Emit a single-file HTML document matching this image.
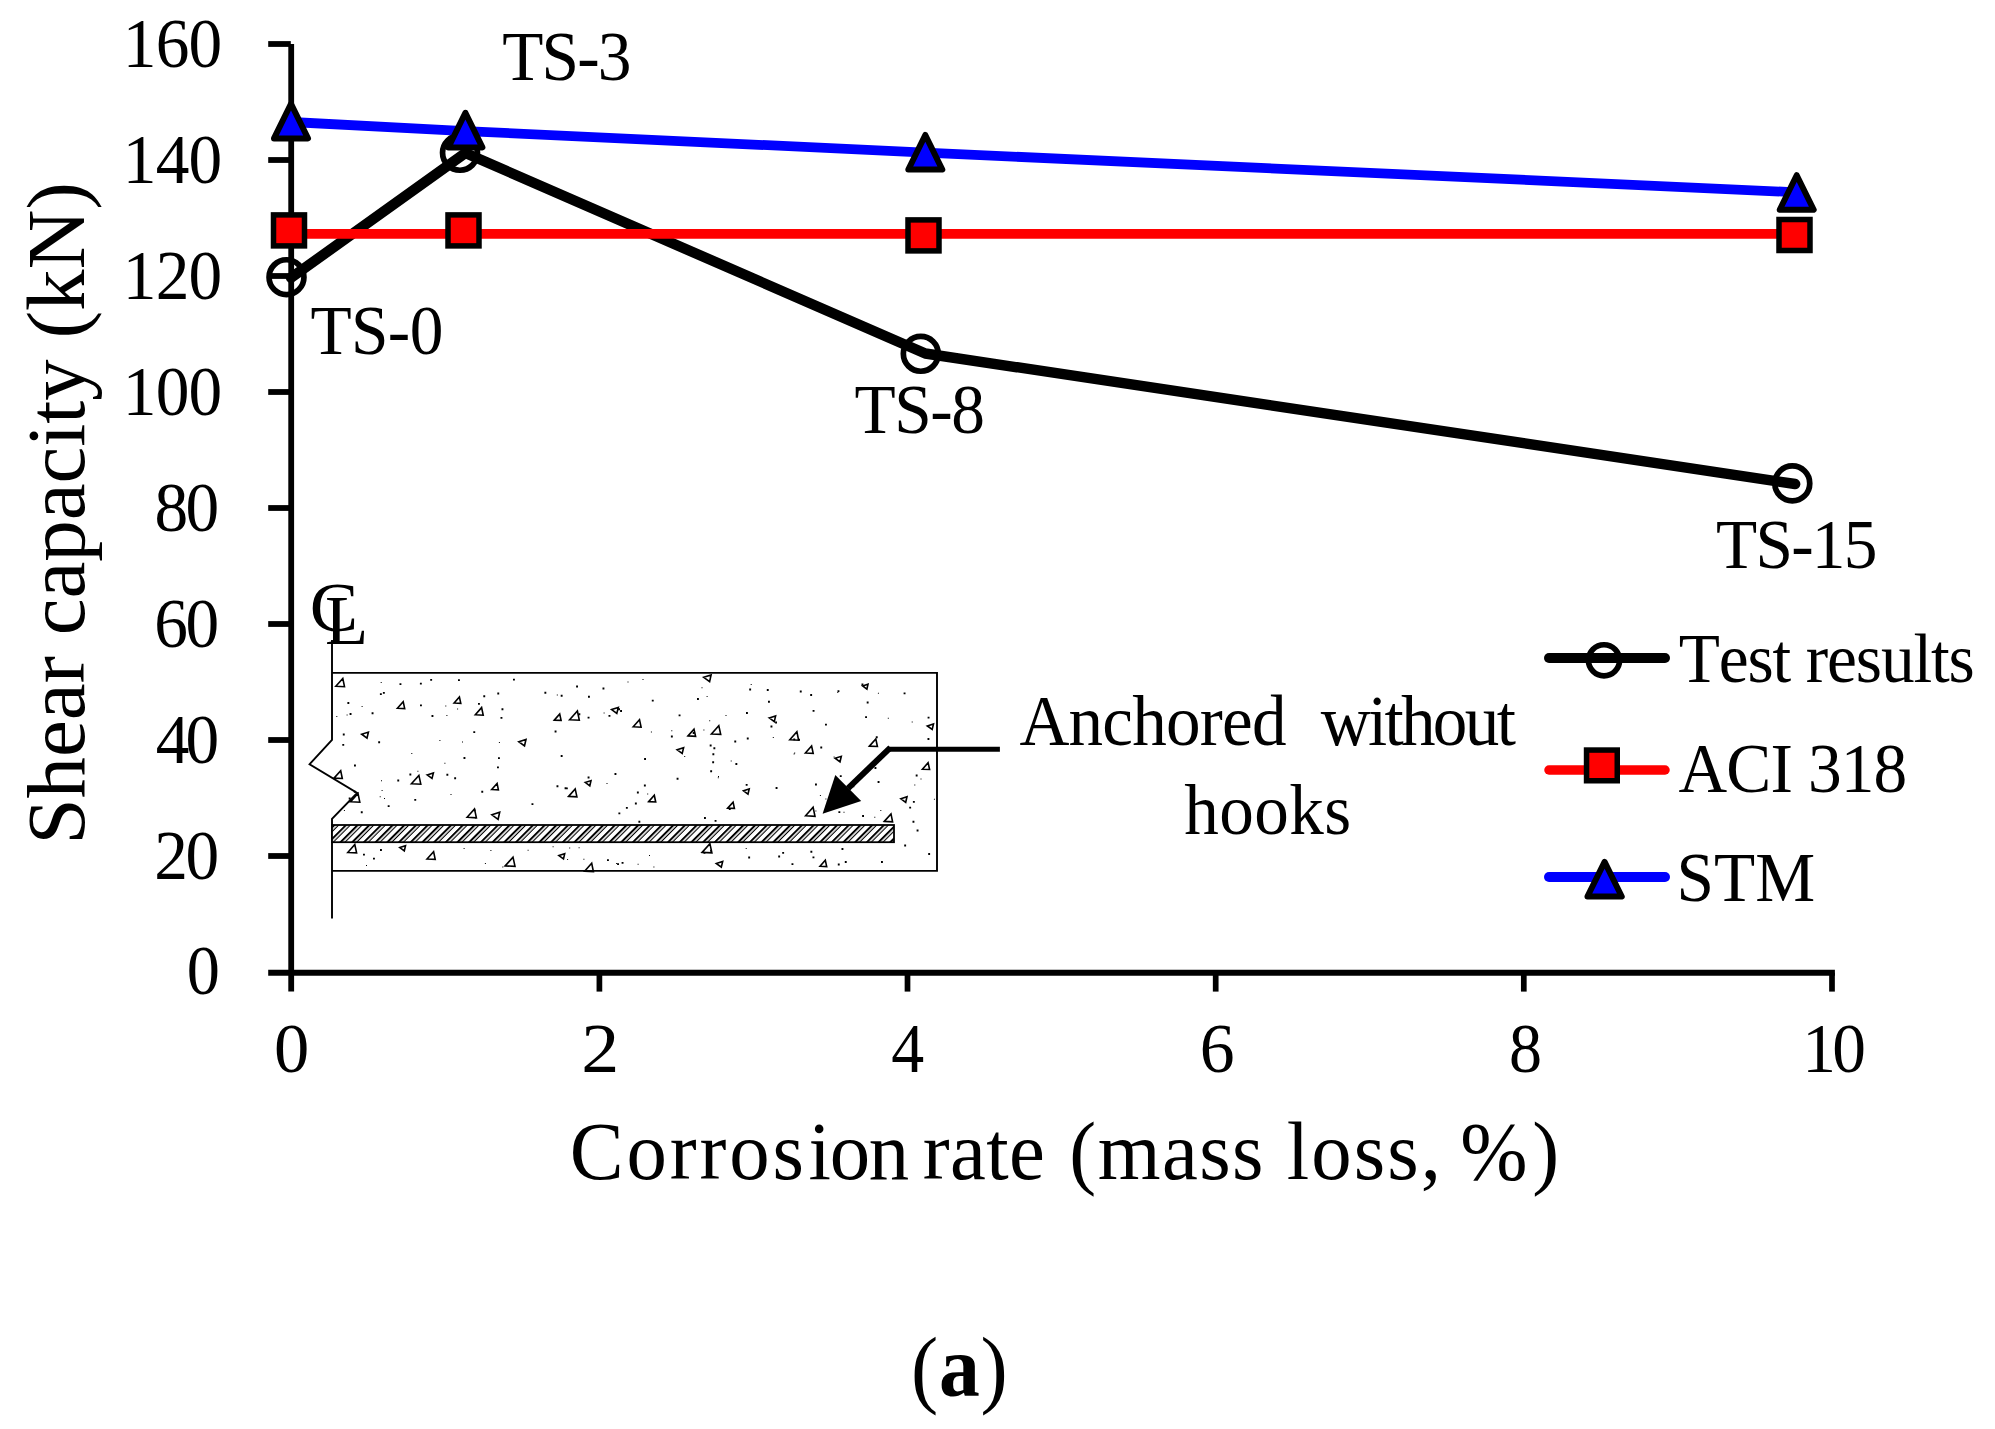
<!DOCTYPE html>
<html><head><meta charset="utf-8"><title>Shear capacity vs corrosion rate</title>
<style>
html,body{margin:0;padding:0;background:#fff;}
svg{display:block;}
text{font-family:"Liberation Serif","Times New Roman",serif;fill:#000;font-kerning:none;white-space:pre;}
</style></head><body>
<svg width="1995" height="1429" viewBox="0 0 1995 1429">
<rect width="1995" height="1429" fill="#fff"/>
<g stroke="#000" fill="none">
<line x1="291.2" y1="44" x2="291.2" y2="991.6" stroke-width="5.8"/>
<line x1="268.2" y1="972.8" x2="1834.9" y2="972.8" stroke-width="6"/>
<line x1="268.2" y1="44.0" x2="290.8" y2="44.0" stroke-width="5.8"/>
<line x1="268.2" y1="160.0" x2="291.2" y2="160.0" stroke-width="5.8"/>
<line x1="268.2" y1="276.0" x2="291.2" y2="276.0" stroke-width="5.8"/>
<line x1="268.2" y1="392.0" x2="291.2" y2="392.0" stroke-width="5.8"/>
<line x1="268.2" y1="508.0" x2="291.2" y2="508.0" stroke-width="5.8"/>
<line x1="268.2" y1="624.0" x2="291.2" y2="624.0" stroke-width="5.8"/>
<line x1="268.2" y1="740.0" x2="291.2" y2="740.0" stroke-width="5.8"/>
<line x1="268.2" y1="856.0" x2="291.2" y2="856.0" stroke-width="5.8"/>
<line x1="599.4" y1="972.8" x2="599.4" y2="991.6" stroke-width="5.7"/>
<line x1="907.5" y1="972.8" x2="907.5" y2="991.6" stroke-width="5.7"/>
<line x1="1215.7" y1="972.8" x2="1215.7" y2="991.6" stroke-width="5.7"/>
<line x1="1523.8" y1="972.8" x2="1523.8" y2="991.6" stroke-width="5.7"/>
<line x1="1832.0" y1="972.8" x2="1832.0" y2="991.6" stroke-width="5.7"/>
</g>
<text transform="translate(122.77,66.50) scale(0.9700,1)" font-size="69.5" letter-spacing="-0.840">160</text>
<text transform="translate(122.77,182.50) scale(0.9700,1)" font-size="69.5" letter-spacing="-0.840">140</text>
<text transform="translate(122.77,298.50) scale(0.9700,1)" font-size="69.5" letter-spacing="-0.840">120</text>
<text transform="translate(122.77,414.50) scale(0.9700,1)" font-size="69.5" letter-spacing="-0.840">100</text>
<text transform="translate(154.53,530.50) scale(0.9700,1)" font-size="69.5" letter-spacing="-2.866">80</text>
<text transform="translate(154.20,646.50) scale(0.9700,1)" font-size="69.5" letter-spacing="-2.526">60</text>
<text transform="translate(155.78,762.50) scale(0.9700,1)" font-size="69.5" letter-spacing="-4.155">40</text>
<text transform="translate(154.14,878.50) scale(0.9700,1)" font-size="69.5" letter-spacing="-2.459">20</text>
<text transform="translate(186.67,994.40) scale(0.9540,1)" font-size="69.5">0</text>
<text transform="translate(274.11,1071.60) scale(1.0151,1)" font-size="69.5">0</text>
<text transform="translate(581.26,1071.60) scale(1.0947,1)" font-size="69.5">2</text>
<text transform="translate(891.31,1071.60) scale(0.9472,1)" font-size="69.5">4</text>
<text transform="translate(1199.80,1071.60) scale(1.0036,1)" font-size="69.5">6</text>
<text transform="translate(1509.08,1071.60) scale(0.9506,1)" font-size="69.5">8</text>
<text transform="translate(1802.17,1071.60) scale(0.9700,1)" font-size="69.5" letter-spacing="-3.631">10</text>
<polyline points="291.0,277.8 465.4,153.0 925.3,353.5 1795.2,484.0" fill="none" stroke="#000" stroke-width="10.4" stroke-linecap="round" stroke-linejoin="round"/>
<circle cx="286.5" cy="277.2" r="17.45" fill="none" stroke="#000" stroke-width="5.7"/>
<circle cx="460.0" cy="152.8" r="17.45" fill="none" stroke="#000" stroke-width="5.7"/>
<circle cx="920.8" cy="353.8" r="17.45" fill="none" stroke="#000" stroke-width="5.7"/>
<circle cx="1792.3" cy="483.4" r="17.45" fill="none" stroke="#000" stroke-width="5.7"/>
<polyline points="291.0,233.9 1796.7,233.9" fill="none" stroke="#ff0000" stroke-width="9.8" stroke-linecap="round" stroke-linejoin="round"/>
<rect x="273.50" y="214.90" width="31.00" height="31.00" fill="#ff0000" stroke="#000" stroke-width="5.5" stroke-linejoin="miter"/>
<rect x="448.00" y="214.90" width="31.00" height="31.00" fill="#ff0000" stroke="#000" stroke-width="5.5" stroke-linejoin="miter"/>
<rect x="908.00" y="219.90" width="31.00" height="31.00" fill="#ff0000" stroke="#000" stroke-width="5.5" stroke-linejoin="miter"/>
<rect x="1779.00" y="219.50" width="31.00" height="31.00" fill="#ff0000" stroke="#000" stroke-width="5.5" stroke-linejoin="miter"/>
<polyline points="291.0,122.0 465.4,131.1 925.3,152.6 1796.7,192.3" fill="none" stroke="#0000ff" stroke-width="9.8" stroke-linecap="round" stroke-linejoin="round"/>
<path d="M291.00,103.80 L308.00,138.40 L274.00,138.40 Z" fill="#0000ff" stroke="#000" stroke-width="6" stroke-linejoin="round"/>
<path d="M465.40,112.80 L482.40,147.40 L448.40,147.40 Z" fill="#0000ff" stroke="#000" stroke-width="6" stroke-linejoin="round"/>
<path d="M925.30,135.00 L942.30,169.60 L908.30,169.60 Z" fill="#0000ff" stroke="#000" stroke-width="6" stroke-linejoin="round"/>
<path d="M1796.70,175.20 L1813.70,209.80 L1779.70,209.80 Z" fill="#0000ff" stroke="#000" stroke-width="6" stroke-linejoin="round"/>
<text transform="translate(502.28,80.20) scale(0.9700,1)" font-size="69.5" letter-spacing="-1.951">TS-3</text>
<text transform="translate(310.48,354.20) scale(0.9700,1)" font-size="69.5" letter-spacing="-0.668">TS-0</text>
<text transform="translate(854.48,433.20) scale(0.9700,1)" font-size="69.5" letter-spacing="-1.493">TS-8</text>
<text transform="translate(1716.08,568.30) scale(0.9700,1)" font-size="69.5" letter-spacing="-1.852">TS-15</text>
<g id="beam">
<defs><pattern id="hatch" width="8.27" height="8.27" patternUnits="userSpaceOnUse" patternTransform="translate(333,825) rotate(-45)"><rect x="0" y="0" width="8.27" height="2.0" fill="#000"/><rect x="0" y="3.5" width="8.27" height="1.1" fill="#000"/></pattern></defs>
<path d="M606.5,782.9h1.0v1.0h-1.0zM614.5,773.0h1.9v1.9h-1.9zM446.4,773.8h1.9v1.9h-1.9zM810.2,694.0h1.9v1.9h-1.9zM750.7,684.0h1.0v1.0h-1.0zM912.9,800.9h1.9v1.9h-1.9zM430.2,678.9h1.9v1.9h-1.9zM371.6,712.3h1.9v1.9h-1.9zM354.0,764.6h1.9v1.9h-1.9zM839.8,775.2h1.9v1.9h-1.9zM634.9,802.5h1.9v1.9h-1.9zM502.3,866.6h1.0v1.0h-1.0zM838.4,811.2h1.9v1.9h-1.9zM473.3,731.2h1.9v1.9h-1.9zM794.2,752.5h1.0v1.0h-1.0zM567.1,859.0h1.0v1.0h-1.0zM336.3,716.1h1.0v1.0h-1.0zM617.1,863.2h1.9v1.9h-1.9zM379.7,796.2h1.0v1.0h-1.0zM497.3,692.6h1.9v1.9h-1.9zM912.5,820.8h1.9v1.9h-1.9zM483.3,695.3h1.9v1.9h-1.9zM812.6,709.9h1.9v1.9h-1.9zM603.6,712.4h1.0v1.0h-1.0zM414.3,798.9h1.9v1.9h-1.9zM587.6,716.7h1.9v1.9h-1.9zM916.6,829.5h1.9v1.9h-1.9zM865.1,716.2h1.9v1.9h-1.9zM846.9,798.6h1.9v1.9h-1.9zM927.6,716.7h1.9v1.9h-1.9zM798.1,738.8h1.9v1.9h-1.9zM379.9,693.2h1.9v1.9h-1.9zM481.3,790.8h1.9v1.9h-1.9zM607.0,859.2h1.9v1.9h-1.9zM445.3,705.4h1.0v1.0h-1.0zM825.0,723.7h1.9v1.9h-1.9zM778.2,855.6h1.9v1.9h-1.9zM904.2,844.5h1.9v1.9h-1.9zM588.0,695.8h1.9v1.9h-1.9zM911.7,721.5h1.0v1.0h-1.0zM692.7,732.0h1.9v1.9h-1.9zM766.8,689.1h1.9v1.9h-1.9zM703.4,729.5h1.0v1.0h-1.0zM458.0,679.2h1.9v1.9h-1.9zM602.5,687.5h1.9v1.9h-1.9zM556.5,785.3h1.9v1.9h-1.9zM552.6,846.2h1.0v1.0h-1.0zM728.8,808.0h1.9v1.9h-1.9zM419.9,682.7h1.9v1.9h-1.9zM880.3,809.9h1.0v1.0h-1.0zM348.7,797.5h1.9v1.9h-1.9zM772.8,736.9h1.0v1.0h-1.0zM381.0,780.3h1.0v1.0h-1.0zM874.3,816.8h1.0v1.0h-1.0zM810.4,850.8h1.9v1.9h-1.9zM745.7,848.1h1.0v1.0h-1.0zM852.4,785.4h1.9v1.9h-1.9zM564.6,787.3h1.9v1.9h-1.9zM384.0,798.1h1.0v1.0h-1.0zM862.1,815.1h1.9v1.9h-1.9zM775.6,787.0h1.9v1.9h-1.9zM837.3,692.0h1.0v1.0h-1.0zM353.8,790.8h1.9v1.9h-1.9zM473.7,809.4h1.9v1.9h-1.9zM703.5,851.8h1.9v1.9h-1.9zM342.8,733.5h1.9v1.9h-1.9zM457.1,708.4h1.0v1.0h-1.0zM730.7,760.4h1.0v1.0h-1.0zM531.5,803.2h1.9v1.9h-1.9zM565.9,787.4h1.9v1.9h-1.9zM417.4,770.8h1.0v1.0h-1.0zM843.5,811.8h1.0v1.0h-1.0zM501.5,708.3h1.9v1.9h-1.9zM500.5,716.9h1.9v1.9h-1.9zM710.2,770.3h1.9v1.9h-1.9zM837.8,863.6h1.9v1.9h-1.9zM380.7,682.0h1.0v1.0h-1.0zM360.8,811.3h1.9v1.9h-1.9zM347.4,702.0h1.9v1.9h-1.9zM478.0,702.9h1.9v1.9h-1.9zM712.2,761.3h1.9v1.9h-1.9zM909.2,806.7h1.9v1.9h-1.9zM620.1,710.1h1.9v1.9h-1.9zM618.4,812.4h1.9v1.9h-1.9zM498.9,742.0h1.0v1.0h-1.0zM647.2,793.4h1.0v1.0h-1.0zM877.9,692.7h1.0v1.0h-1.0zM768.0,700.8h1.9v1.9h-1.9zM710.1,849.8h1.9v1.9h-1.9zM812.5,856.4h1.9v1.9h-1.9zM725.5,715.1h1.0v1.0h-1.0zM825.4,798.5h1.0v1.0h-1.0zM463.6,847.9h1.0v1.0h-1.0zM920.5,778.6h1.0v1.0h-1.0zM527.6,849.8h1.0v1.0h-1.0zM544.4,691.8h1.9v1.9h-1.9zM627.5,681.4h1.0v1.0h-1.0zM439.4,740.0h1.0v1.0h-1.0zM420.0,704.4h1.9v1.9h-1.9zM748.2,856.6h1.9v1.9h-1.9zM903.6,692.4h1.9v1.9h-1.9zM650.9,731.4h1.0v1.0h-1.0zM718.0,775.9h1.0v1.0h-1.0zM670.9,735.5h1.9v1.9h-1.9zM841.5,848.0h1.9v1.9h-1.9zM844.8,861.0h1.9v1.9h-1.9zM678.6,714.4h1.9v1.9h-1.9zM636.9,791.6h1.9v1.9h-1.9zM915.7,774.6h1.9v1.9h-1.9zM815.0,783.5h1.9v1.9h-1.9zM749.2,688.6h1.9v1.9h-1.9zM583.4,858.8h1.0v1.0h-1.0zM497.0,766.4h1.9v1.9h-1.9zM874.5,767.0h1.9v1.9h-1.9zM450.5,794.0h1.0v1.0h-1.0zM349.6,713.1h1.9v1.9h-1.9zM746.8,737.5h1.9v1.9h-1.9zM706.6,696.0h1.0v1.0h-1.0zM409.4,773.5h1.9v1.9h-1.9zM454.2,777.3h1.9v1.9h-1.9zM560.7,755.0h1.9v1.9h-1.9zM431.5,715.0h1.9v1.9h-1.9zM717.8,777.2h1.0v1.0h-1.0zM475.1,817.5h1.0v1.0h-1.0zM875.8,736.3h1.9v1.9h-1.9zM887.8,717.7h1.0v1.0h-1.0zM866.7,701.6h1.9v1.9h-1.9zM770.5,725.6h1.9v1.9h-1.9zM833.6,756.5h1.0v1.0h-1.0zM411.3,752.9h1.0v1.0h-1.0zM346.6,714.4h1.0v1.0h-1.0zM881.0,861.0h1.9v1.9h-1.9zM638.4,820.8h1.9v1.9h-1.9zM746.0,712.1h1.9v1.9h-1.9zM399.5,683.2h1.9v1.9h-1.9zM643.9,784.6h1.9v1.9h-1.9zM446.4,714.9h1.0v1.0h-1.0zM928.2,853.0h1.9v1.9h-1.9zM373.0,857.7h1.9v1.9h-1.9zM793.3,738.4h1.9v1.9h-1.9zM644.1,758.1h1.9v1.9h-1.9zM343.9,809.9h1.0v1.0h-1.0zM444.4,762.7h1.0v1.0h-1.0zM578.4,713.3h1.9v1.9h-1.9zM642.5,678.9h1.0v1.0h-1.0zM815.4,810.6h1.0v1.0h-1.0zM712.4,753.3h1.9v1.9h-1.9zM637.6,863.7h1.0v1.0h-1.0zM490.4,850.1h1.0v1.0h-1.0zM578.6,847.2h1.0v1.0h-1.0zM793.6,753.5h1.0v1.0h-1.0zM378.2,741.3h1.9v1.9h-1.9zM342.3,743.9h1.9v1.9h-1.9zM709.2,720.3h1.0v1.0h-1.0zM734.3,740.5h1.9v1.9h-1.9zM676.6,777.8h1.9v1.9h-1.9zM933.9,798.7h1.0v1.0h-1.0zM791.5,863.2h1.9v1.9h-1.9zM704.0,817.1h1.9v1.9h-1.9zM576.1,685.6h1.9v1.9h-1.9zM560.7,694.8h1.9v1.9h-1.9zM877.6,781.1h1.9v1.9h-1.9zM914.3,784.5h1.0v1.0h-1.0zM381.6,790.1h1.0v1.0h-1.0zM363.0,853.7h1.9v1.9h-1.9zM618.1,708.3h1.9v1.9h-1.9zM701.5,687.2h1.0v1.0h-1.0zM587.6,776.6h1.9v1.9h-1.9zM554.6,730.6h1.9v1.9h-1.9zM671.3,730.2h1.0v1.0h-1.0zM513.0,678.7h1.9v1.9h-1.9zM361.6,705.9h1.0v1.0h-1.0zM569.2,847.4h1.0v1.0h-1.0zM366.0,864.9h1.0v1.0h-1.0zM380.0,849.0h1.9v1.9h-1.9zM621.6,861.9h1.9v1.9h-1.9zM649.0,855.0h1.0v1.0h-1.0zM616.1,863.0h1.0v1.0h-1.0zM697.0,698.0h1.9v1.9h-1.9zM608.5,714.9h1.9v1.9h-1.9zM651.8,699.7h1.9v1.9h-1.9zM735.4,763.0h1.9v1.9h-1.9zM684.2,756.1h1.0v1.0h-1.0zM653.4,866.5h1.0v1.0h-1.0zM775.1,721.5h1.9v1.9h-1.9zM709.7,744.6h1.9v1.9h-1.9zM745.7,783.9h1.9v1.9h-1.9zM714.6,819.9h1.9v1.9h-1.9zM484.9,863.1h1.0v1.0h-1.0zM861.5,683.5h1.9v1.9h-1.9zM498.0,757.2h1.9v1.9h-1.9zM397.3,779.5h1.9v1.9h-1.9zM387.7,805.2h1.9v1.9h-1.9zM713.4,747.3h1.9v1.9h-1.9zM462.0,741.6h1.0v1.0h-1.0zM837.5,690.2h1.9v1.9h-1.9zM819.9,795.1h1.0v1.0h-1.0zM463.5,757.1h1.9v1.9h-1.9zM820.3,746.5h1.9v1.9h-1.9zM927.5,738.1h1.9v1.9h-1.9zM782.2,851.9h1.9v1.9h-1.9zM556.8,694.5h1.0v1.0h-1.0zM382.9,691.9h1.9v1.9h-1.9zM625.9,806.9h1.9v1.9h-1.9zM799.8,690.5h1.9v1.9h-1.9z" fill="#000"/>
<path d="M335.8,686.3 L344.5,686.7 L342.8,678.4 Z M397.4,708.2 L404.7,708.6 L403.2,701.7 Z M454.1,703.0 L460.8,703.3 L459.4,697.0 Z M475.3,714.8 L483.2,715.2 L481.6,707.6 Z M554.3,720.1 L561.1,720.4 L559.7,714.0 Z M569.6,719.7 L579.3,720.2 L577.4,711.0 Z M611.6,709.6 L618.3,707.5 L616.8,713.5 Z M633.2,726.8 L641.1,727.2 L639.5,719.7 Z M688.0,735.9 L695.6,736.3 L694.0,729.1 Z M361.7,734.2 L368.4,732.1 L367.0,738.1 Z M518.8,741.7 L526.0,739.4 L524.5,745.8 Z M677.1,749.8 L683.6,747.7 L682.2,753.5 Z M334.0,778.1 L342.3,778.5 L340.7,770.6 Z M411.4,783.8 L420.8,784.2 L418.9,775.4 Z M427.1,774.9 L433.4,772.9 L432.0,778.5 Z M491.7,789.5 L498.4,789.8 L497.1,783.4 Z M585.2,782.4 L591.0,780.6 L589.8,785.8 Z M568.6,796.4 L576.9,796.8 L575.2,788.9 Z M648.7,801.6 L655.7,802.0 L654.3,795.3 Z M350.6,801.8 L359.8,802.2 L358.0,793.4 Z M467.1,817.3 L476.4,817.8 L474.5,808.9 Z M491.9,814.8 L499.7,812.3 L498.1,819.3 Z M347.8,852.5 L356.6,852.9 L354.8,844.5 Z M399.8,847.6 L405.5,845.8 L404.3,850.9 Z M427.0,859.0 L435.2,859.4 L433.6,851.6 Z M505.2,865.9 L515.0,866.4 L513.0,857.1 Z M558.9,855.6 L564.7,853.8 L563.5,859.0 Z M584.6,871.3 L593.4,871.7 L591.7,863.3 Z M703.7,677.3 L711.1,675.0 L709.6,681.6 Z M862.5,685.9 L868.0,684.2 L866.9,689.1 Z M769.2,717.9 L775.6,715.9 L774.3,721.6 Z M711.4,734.0 L720.7,734.4 L718.8,725.6 Z M789.8,739.8 L798.6,740.2 L796.9,731.8 Z M805.4,753.0 L813.2,753.4 L811.6,746.0 Z M869.4,746.1 L877.4,746.5 L875.8,738.9 Z M927.3,726.0 L933.5,724.0 L932.2,729.5 Z M835.1,758.2 L841.3,756.3 L840.0,761.9 Z M922.4,769.2 L929.6,769.5 L928.1,762.7 Z M743.5,790.8 L749.2,789.0 L748.0,794.1 Z M727.7,808.1 L734.4,808.4 L733.1,802.1 Z M805.6,815.8 L815.0,816.3 L813.1,807.3 Z M900.9,798.8 L907.0,796.8 L905.7,802.3 Z M884.3,821.4 L892.6,821.8 L891.0,813.9 Z M702.1,852.4 L711.9,852.9 L709.9,843.6 Z M716.3,863.5 L722.7,861.5 L721.3,867.2 Z M820.0,866.2 L826.7,866.6 L825.3,860.2 Z" fill="none" stroke="#000" stroke-width="1.6" stroke-linejoin="miter"/>
<g fill="none" stroke="#000" stroke-width="1.9">
<path d="M332,640 L332,740 L309.6,764.2 L357.2,793 L332,818.9 L332,918.4"/>
<path d="M332,672.9 L937,672.9 L937,870.9 L332,870.9"/>
</g>
<rect x="332" y="825" width="562" height="17.2" fill="#fff"/>
<rect x="332" y="825" width="562" height="17.2" fill="url(#hatch)" stroke="#000" stroke-width="1.8"/>
<text transform="translate(309.63,631.30) scale(1.0512,1)" font-size="69">C</text>
<text transform="translate(324.96,644.00) scale(1.0273,1)" font-size="69">L</text>
<path d="M999.9,749.3 L887.6,749.3" fill="none" stroke="#000" stroke-width="5"/>
<path d="M890.4,747.6 L848,788.3" fill="none" stroke="#000" stroke-width="6"/>
<path d="M822.6,813.8 L835.3,775.0 L861.2,801.1 Z" fill="#000"/>
</g>
<text transform="translate(1019.42,745.00) scale(0.9700,1)" font-size="71.3" letter-spacing="-0.806">Anchored</text>
<text transform="translate(1320.63,745.00) scale(0.9700,1)" font-size="71.3" letter-spacing="-2.759">without</text>
<text transform="translate(1184.32,834.30) scale(0.9700,1)" font-size="71.3" letter-spacing="0.396">hooks</text>
<polyline points="1549.0,658.0 1665.0,658.0" fill="none" stroke="#000" stroke-width="10" stroke-linecap="round" stroke-linejoin="round"/>
<circle cx="1604.0" cy="660.3" r="15.55" fill="none" stroke="#000" stroke-width="5.7"/>
<polyline points="1549.0,770.0 1665.0,770.0" fill="none" stroke="#ff0000" stroke-width="9.5" stroke-linecap="round" stroke-linejoin="round"/>
<rect x="1586.55" y="750.05" width="30.70" height="30.70" fill="#ff0000" stroke="#000" stroke-width="5.5" stroke-linejoin="miter"/>
<polyline points="1549.0,877.0 1665.0,877.0" fill="none" stroke="#0000ff" stroke-width="10" stroke-linecap="round" stroke-linejoin="round"/>
<path d="M1604.60,861.90 L1621.75,896.50 L1587.45,896.50 Z" fill="#0000ff" stroke="#000" stroke-width="6" stroke-linejoin="round"/>
<text transform="translate(1678.78,682.30) scale(0.9700,1)" font-size="69.5" letter-spacing="-1.207">Test results</text>
<text transform="translate(1678.54,791.80) scale(0.9700,1)" font-size="69.5" letter-spacing="-0.902">ACI 318</text>
<text transform="translate(1676.49,901.00) scale(0.9700,1)" font-size="69.5" letter-spacing="0.087">STM</text>
<text transform="translate(84,844.54) rotate(-90) scale(0.9946,1)" font-size="83.3">Shear capacity (kN)</text>
<text transform="scale(0.9700,1)"><tspan x="587.31" y="1179.50" font-size="83.3" letter-spacing="2.944">Corros</tspan><tspan x="833.51" y="1179.50" font-size="83.3" letter-spacing="-1.304">ion</tspan> <tspan x="951.32" y="1179.50" font-size="83.3" letter-spacing="0.390">rate</tspan> <tspan x="1102.42" y="1179.50" font-size="83.3" letter-spacing="1.459">(mass</tspan> <tspan x="1326.68" y="1179.50" font-size="83.3" letter-spacing="2.079">loss,</tspan> <tspan x="1505.50" y="1179.50" font-size="83.3" letter-spacing="0.000">%</tspan><tspan x="1579.58" y="1179.50" font-size="83.3" letter-spacing="0.000">)</tspan></text>
<text transform="scale(0.9500,1)"><tspan x="958.96" y="1397.10" font-size="86" letter-spacing="0.000">(</tspan><tspan x="988.49" y="1395.90" font-size="86" font-weight="bold" letter-spacing="0.000">a</tspan><tspan x="1032.07" y="1397.10" font-size="86" letter-spacing="0.000">)</tspan></text>
</svg>
</body></html>
